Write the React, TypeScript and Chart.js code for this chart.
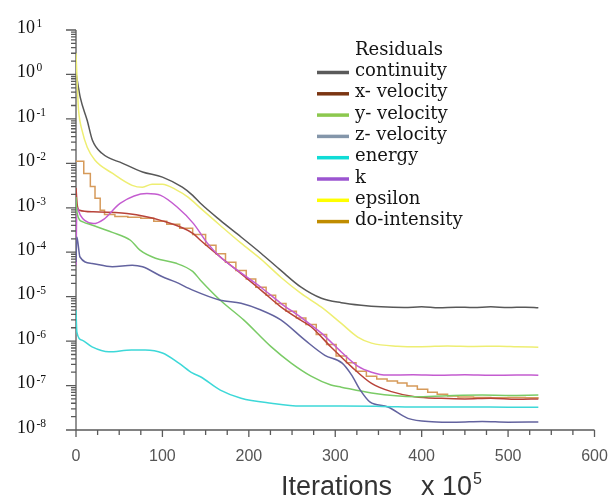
import React, { useEffect, useRef } from "react";
import { Chart, registerables } from "chart.js";

Chart.register(...registerables);

// ---- data (iterations x 1e5, residual values) ----
const seriesNames = ["continuity", "x- velocity", "y- velocity", "z- velocity", "energy", "k", "epsilon", "do-intensity"];

const continuityX = [0, 5, 13, 19, 30, 54, 77, 100, 123, 135, 144, 167, 191, 214, 237, 260, 284, 307, 330, 353, 380, 400, 420, 440, 460, 480, 500, 520, 535];
const continuityY = [1.1, 0.3, 0.092, 0.033, 0.0168, 0.01, 0.0064, 0.0049, 0.0029, 0.0019, 0.00126, 5.2e-4, 2.2e-4, 9.5e-5, 3.9e-5, 1.66e-5, 9.2e-6, 7.3e-6, 6.4e-6, 5.9e-6, 5.7e-6, 5.9e-6, 5.6e-6, 5.8e-6, 5.7e-6, 5.9e-6, 5.7e-6, 5.8e-6, 5.6e-6];

const xVelocityX = [0, 1.5, 4, 20, 59, 98, 136, 144, 167, 191, 214, 237, 260, 272, 295, 319, 342, 365, 392, 423, 450, 480, 510, 535];
const xVelocityY = [2.8e-3, 1.14e-3, 8.8e-4, 8.1e-4, 7.4e-4, 5.2e-4, 2.6e-4, 1.86e-4, 7.8e-5, 3.3e-5, 1.4e-5, 5.9e-6, 2.96e-6, 2.1e-6, 7.4e-7, 2.64e-7, 1.12e-7, 7.3e-8, 5.6e-8, 5.15e-8, 5.0e-8, 5.2e-8, 4.9e-8, 5.0e-8];

const yVelocityX = [0, 1, 8, 20, 42, 63, 74, 92, 115, 135, 144, 167, 194, 226, 249, 272, 295, 307, 342, 392, 430, 470, 500, 535];
const yVelocityY = [1.75e-3, 8.0e-4, 4.8e-4, 4.0e-4, 2.8e-4, 1.86e-4, 1.11e-4, 7.3e-5, 5.7e-5, 3.7e-5, 2.35e-5, 8.3e-6, 3.0e-6, 7.4e-7, 3.2e-7, 1.63e-7, 1.03e-7, 9.2e-8, 6.8e-8, 5.6e-8, 5.9e-8, 6.1e-8, 6.0e-8, 6.1e-8];

const zVelocityX = [0, 1, 4.6, 18.6, 42, 65, 77, 100, 115, 135, 167, 191, 214, 237, 265, 288, 308, 319, 329, 340, 361, 384, 412, 440, 470, 500, 535];
const zVelocityY = [6.0e-5, 2.2e-4, 7.8e-5, 5.6e-5, 4.7e-5, 5.1e-5, 4.7e-5, 2.8e-5, 2.15e-5, 1.4e-5, 8.3e-6, 7.1e-6, 5.0e-6, 3.0e-6, 1.05e-6, 4.8e-7, 3.2e-7, 1.72e-7, 7.9e-8, 4.3e-8, 3.3e-8, 1.83e-8, 1.54e-8, 1.5e-8, 1.55e-8, 1.5e-8, 1.52e-8];

const energyX = [0, 1, 7, 18.6, 38, 64, 80, 100, 119, 135, 144, 167, 191, 226, 260, 307, 354, 400, 450, 500, 535];
const energyY = [5.0e-6, 1.6e-6, 1.05e-6, 7.4e-7, 5.75e-7, 6.3e-7, 6.3e-7, 5.4e-7, 3.2e-7, 1.9e-7, 1.58e-7, 7.9e-8, 5.2e-8, 4.0e-8, 3.46e-8, 3.46e-8, 3.4e-8, 3.3e-8, 3.3e-8, 3.25e-8, 3.24e-8];

const kX = [0, 1, 5, 10, 20, 32, 51, 82, 98, 117, 136, 152, 167, 187, 214, 237, 260, 284, 307, 326, 342, 360, 390, 420, 450, 480, 510, 535];
const kY = [5.1e-5, 1.0e-3, 6.8e-4, 5.2e-4, 4.4e-4, 5.5e-4, 1.26e-3, 2.1e-3, 1.9e-3, 1.04e-3, 4.4e-4, 1.6e-4, 7.8e-5, 3.9e-5, 1.63e-5, 7.1e-6, 3.46e-6, 1.51e-6, 5.7e-7, 2.74e-7, 2.0e-7, 1.72e-7, 1.75e-7, 1.7e-7, 1.74e-7, 1.7e-7, 1.73e-7, 1.71e-7];

const epsilonX = [0, 2, 3, 7, 13, 22, 42, 65, 77, 88, 100, 115, 130, 144, 167, 191, 214, 237, 260, 284, 307, 326, 342, 372, 400, 430, 460, 490, 510, 535];
const epsilonY = [3.0, 0.34, 0.155, 0.055, 0.023, 0.0117, 0.006, 0.0032, 0.0029, 0.0034, 0.0034, 0.0026, 0.00172, 9.8e-4, 4.0e-4, 1.6e-4, 7.0e-5, 2.74e-5, 1.2e-5, 5.8e-6, 2.5e-6, 1.23e-6, 9.0e-7, 7.7e-7, 7.5e-7, 7.8e-7, 7.6e-7, 7.7e-7, 7.5e-7, 7.3e-7];

// staircase series (value changes at each listed iteration)
const doIntensityX = [0, 9, 16.6, 22, 28, 33, 45, 60, 75, 90, 105, 120, 135, 150, 162, 173, 185, 197, 208, 220, 231, 243, 255, 266, 278, 290, 301, 313, 324, 336, 348, 360, 372, 383, 395, 407, 418, 430, 442, 460, 480, 500, 520, 535];
const doIntensityY = [1.11e-2, 5.9e-3, 3.0e-3, 1.63e-3, 8.8e-4, 7.1e-4, 6.4e-4, 6.1e-4, 5.8e-4, 5.0e-4, 4.25e-4, 3.46e-4, 2.5e-4, 1.44e-4, 9.2e-5, 5.96e-5, 3.9e-5, 2.5e-5, 1.63e-5, 1.08e-5, 7.0e-6, 4.7e-6, 3.3e-6, 2.37e-6, 1.41e-6, 8.4e-7, 4.6e-7, 3.25e-7, 2.1e-7, 1.63e-7, 1.4e-7, 1.26e-7, 1.14e-7, 9.8e-8, 8.3e-8, 7.1e-8, 6.4e-8, 5.8e-8, 5.5e-8, 5.4e-8, 5.3e-8, 5.4e-8, 5.3e-8, 5.4e-8];

const yTickExponents = [1, 0, -1, -2, -3, -4, -5, -6, -7, -8];
const xTickLabels = [0, 100, 200, 300, 400, 500, 600];
const xTitle = "Iterations";
const xUnit = "x 10";
const xUnitExp = "5";
const legendTitle = "Residuals";

// ---- styles ----
const lineColors = ["#585858", "#b8433a", "#7acb66", "#63639f", "#3dd8d8", "#c45cd0", "#eeee72", "#d69a5a"];
const legendColors = ["#5a5a5a", "#7b3512", "#8cc84e", "#8496aa", "#10dcd6", "#9b55d0", "#ffff00", "#c08c00"];

const toPoints = (xs: number[], ys: number[]) => xs.map((x, i) => ({ x, y: ys[i] }));

const decorPlugin = {
  id: "decor",
  beforeDatasetsDraw(chart: any) {
    const { ctx, scales } = chart;
    const xs = scales.x;
    const ys = scales.y;
    const x0 = xs.getPixelForValue(0);
    const x1 = xs.getPixelForValue(600);
    const yTop = ys.getPixelForValue(10);
    const yBot = ys.getPixelForValue(1e-8);
    ctx.save();
    ctx.strokeStyle = "#5a5a5a";
    ctx.lineWidth = 1.3;
    ctx.beginPath();
    ctx.moveTo(x0, yTop);
    ctx.lineTo(x0, yBot);
    ctx.moveTo(x0 - 1, yBot);
    ctx.lineTo(x1, yBot);
    // y ticks
    yTickExponents.forEach((e) => {
      const p = ys.getPixelForValue(Math.pow(10, e));
      ctx.moveTo(x0 - 10, p);
      ctx.lineTo(x0, p);
      if (e < 1) {
        for (let m = 2; m <= 9; m++) {
          const q = ys.getPixelForValue(m * Math.pow(10, e));
          ctx.moveTo(x0 - 5, q);
          ctx.lineTo(x0, q);
        }
      }
    });
    // x ticks
    for (let v = 0; v <= 600; v += 25) {
      const p = xs.getPixelForValue(v);
      ctx.moveTo(p, yBot);
      ctx.lineTo(p, yBot + (v % 100 === 0 ? 7 : 5));
    }
    ctx.stroke();

    // y labels
    ctx.fillStyle = "#111";
    ctx.textBaseline = "middle";
    ctx.textAlign = "left";
    yTickExponents.forEach((e) => {
      const p = ys.getPixelForValue(Math.pow(10, e));
      ctx.font = "18px 'Liberation Serif', serif";
      ctx.fillText("10", 17, p - 2);
      const w = ctx.measureText("10").width;
      ctx.font = "11.5px 'Liberation Serif', serif";
      ctx.fillText(String(e), 17 + w + 1.5, p - 6);
    });

    // x labels
    ctx.fillStyle = "#555";
    ctx.textAlign = "center";
    ctx.font = "16px 'Liberation Sans', Arial, sans-serif";
    xTickLabels.forEach((v) => {
      ctx.fillText(String(v), xs.getPixelForValue(v), 457);
    });

    // x title
    ctx.fillStyle = "#333";
    ctx.textAlign = "left";
    ctx.textBaseline = "alphabetic";
    ctx.font = "27px 'Liberation Sans', Arial, sans-serif";
    ctx.fillText(xTitle, 281, 495);
    ctx.fillText(xUnit, 421, 495);
    const uw = ctx.measureText(xUnit).width;
    ctx.font = "16px 'Liberation Sans', Arial, sans-serif";
    ctx.fillText(xUnitExp, 421 + uw + 1, 484);
    ctx.restore();
  },
  afterDatasetsDraw(chart: any) {
    const { ctx } = chart;
    ctx.save();
    ctx.fillStyle = "#151515";
    ctx.textBaseline = "middle";
    ctx.textAlign = "left";
    ctx.font = "18px 'DejaVu Serif', serif";
    ctx.fillText(legendTitle, 355, 50);
    seriesNames.forEach((name, i) => {
      const y = 72.5 + i * 21.3;
      ctx.strokeStyle = legendColors[i];
      ctx.lineWidth = 3.5;
      ctx.beginPath();
      ctx.moveTo(317, y);
      ctx.lineTo(349, y);
      ctx.stroke();
      ctx.fillStyle = "#151515";
      ctx.fillText(name, 355, y - 1);
    });
    ctx.restore();
  },
};

export default function App() {
  const ref = useRef<HTMLCanvasElement | null>(null);
  useEffect(() => {
    if (!ref.current) return;
    const allX = [continuityX, xVelocityX, yVelocityX, zVelocityX, energyX, kX, epsilonX, doIntensityX];
    const allY = [continuityY, xVelocityY, yVelocityY, zVelocityY, energyY, kY, epsilonY, doIntensityY];
    const drawOrder = [4, 3, 2, 6, 0, 5, 1, 7];
    const datasets = drawOrder.map((i) => ({
      label: seriesNames[i],
      data: toPoints(allX[i], allY[i]),
      borderColor: lineColors[i],
      backgroundColor: lineColors[i],
      borderWidth: 1.5,
      pointRadius: 0,
      fill: false,
      stepped: i === 7 ? ("before" as const) : false,
      cubicInterpolationMode: "monotone" as const,
      tension: i === 7 ? 0 : 0.4,
    }));
    const chart = new Chart(ref.current, {
      type: "line",
      data: { datasets },
      options: {
        animation: false,
        responsive: false,
        layout: { padding: { left: 76, right: 18.5, top: 30, bottom: 70 } },
        plugins: { legend: { display: false }, tooltip: { enabled: false } },
        scales: {
          x: { type: "linear", min: 0, max: 600, display: false },
          y: { type: "logarithmic", min: 1e-8, max: 10, display: false },
        },
      },
      plugins: [decorPlugin],
    });
    return () => chart.destroy();
  }, []);
  return (
    <div style={{ position: "fixed", left: 0, top: 0, width: 613, height: 500, background: "#fff" }}>
      <canvas ref={ref} width={613} height={500} />
    </div>
  );
}
